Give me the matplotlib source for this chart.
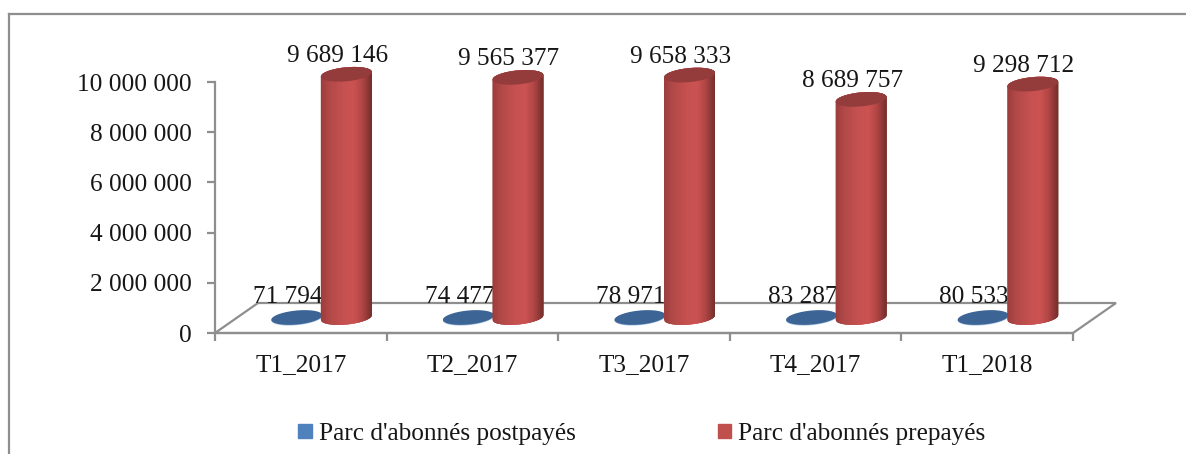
import numpy as np
import matplotlib
matplotlib.use('Agg')
import matplotlib.pyplot as plt
from matplotlib.colors import LinearSegmentedColormap
from matplotlib.patches import Polygon, Rectangle
from matplotlib.lines import Line2D

plt.rcParams['font.family'] = ['Liberation Serif', 'DejaVu Serif']

# Data
categories = ['T1_2017', 'T2_2017', 'T3_2017', 'T4_2017', 'T1_2018']
postpaid = [71794, 74477, 78971, 83287, 80533]
prepaid = [9689146, 9565377, 9658333, 8689757, 9298712]
postpaid_labels = ['71 794', '74 477', '78 971', '83 287', '80 533']
prepaid_labels = ['9 689 146', '9 565 377', '9 658 333', '8 689 757', '9 298 712']
yticks = [0, 2000000, 4000000, 6000000, 8000000, 10000000]
ytick_labels = ['0', '2 000 000', '4 000 000', '6 000 000', '8 000 000', '10 000 000']
series_names = ["Parc d'abonnés postpayés", "Parc d'abonnés prepayés"]

W, H = 1186, 454
GREY = '#8e8e8e'
TEXT = '#161616'
FS = 18.2

# Axes pixel box (left, right, bottom, top in image coordinates)
L, R, B, T = 215, 1073, 333, 82

fig = plt.figure(figsize=(W / 100, H / 100), dpi=100)
ax = fig.add_axes([L / W, 1 - B / H, (R - L) / W, (B - T) / H])
ax.set_xlim(0, 5)
ax.set_ylim(0, 10000000)
ax.patch.set_visible(False)

px_x = 5 / (R - L)            # data units per pixel
px_y = 10000000 / (B - T)

# Outer frame, cut off by the picture edge
fig.add_artist(Line2D([9 / W, 9 / W], [0, 1 - 14 / H], color=GREY, lw=1.6))
fig.add_artist(Line2D([9 / W, 1], [1 - 14 / H, 1 - 14 / H], color=GREY, lw=1.6))

# Axis lines and ticks
for s in ['top', 'right']:
    ax.spines[s].set_visible(False)
for s in ['left', 'bottom']:
    ax.spines[s].set_color(GREY)
    ax.spines[s].set_linewidth(1.6)
ax.set_yticks(yticks)
ax.set_yticklabels(ytick_labels, fontsize=FS, color=TEXT)
ax.set_xticks(range(6))
ax.set_xticklabels([])
ax.tick_params(axis='y', length=5.5, width=1.6, color=GREY, pad=11.5)
ax.tick_params(axis='x', length=5.5, width=1.6, color=GREY)
for i, name in enumerate(categories):
    ax.annotate(name, (i + 0.5, 0), xytext=(0, -32), textcoords='offset pixels',
                ha='center', va='center', fontsize=FS, color=TEXT)

# Floor of the 3D chart
dx, dy = 43 * px_x, 30 * px_y
floor = Polygon([(0, 0), (dx, dy), (5 + dx, dy), (5, 0)], closed=True, fill=False,
                edgecolor=GREY, lw=1.6, clip_on=False, zorder=2)
ax.add_patch(floor)

# Cylinder geometry, in pixels relative to the category centre / floor
base = 15.5 * px_y
half_w = 25.5 * px_x
half_h = 7 * px_y
tilt = 0.09 * (px_y / px_x)
t = np.linspace(0, 2 * np.pi, 120)

shade = LinearSegmentedColormap.from_list('cyl', [
    (0.0, '#9c3e3d'), (0.15, '#b04847'), (0.45, '#c65150'), (0.65, '#cb5352'),
    (0.82, '#b04645'), (0.94, '#8a3635'), (1.0, '#743029')])


def ellipse(cx, cy, a=half_w, b=half_h):
    return np.column_stack([cx + a * np.cos(t), cy + b * np.sin(t) + tilt * a * np.cos(t)])


for i in range(5):
    # Flat disc for the very small postpaid series
    cx = i + 0.5 - 4 * px_x
    pts = ellipse(cx, base)
    ax.add_patch(Polygon(pts - [0, 0.7 * px_y], closed=True, color='#a9c3e3', lw=0, clip_on=False, zorder=3))
    ax.add_patch(Polygon(pts, closed=True, color='#3c6595', lw=0, clip_on=False, zorder=3.1))
    ax.annotate(postpaid_labels[i], (cx, 0), xytext=(-9, 36), textcoords='offset pixels',
                ha='center', va='center', fontsize=FS, color=TEXT, zorder=4, annotation_clip=False)

    # Prepaid cylinder: strips painted left to right, each one overlapping the next
    cx = i + 0.5 + 45.5 * px_x
    top = base + prepaid[i]
    edges = np.linspace(-1, 1, 61)
    for j in range(60):
        xs = np.linspace(edges[j], edges[min(j + 3, 60)], 6)
        low = base - np.sqrt(1 - xs ** 2) * half_h + tilt * half_w * xs
        high = top + np.sqrt(1 - xs ** 2) * half_h + tilt * half_w * xs
        outline = np.vstack([np.column_stack([cx + half_w * xs, low]),
                             np.column_stack([cx + half_w * xs[::-1], high[::-1]])])
        ax.add_patch(Polygon(outline, closed=True, facecolor=shade(j / 59), lw=0,
                             clip_on=False, zorder=5 + j * 0.001))
    ax.add_patch(Polygon(ellipse(cx, top), closed=True, color='#943c3b', lw=0, clip_on=False, zorder=5.5))
    ax.annotate(prepaid_labels[i], (cx, top), xytext=(-9, 18), textcoords='offset pixels',
                ha='center', va='center', fontsize=FS, color=TEXT, zorder=6, annotation_clip=False)

# Legend
handles = [Rectangle((0, 0), 1, 1, color='#4f81bd'), Rectangle((0, 0), 1, 1, color='#c0504d')]
fig.legend(handles, series_names, loc='center', bbox_to_anchor=(642 / W, 1 - 434 / H), ncol=2,
           frameon=False, fontsize=FS, labelcolor=TEXT, handlelength=0.52, handleheight=0.52,
           handletextpad=0.3, columnspacing=5.6, borderpad=0)

fig.savefig('out.png', dpi=100)
